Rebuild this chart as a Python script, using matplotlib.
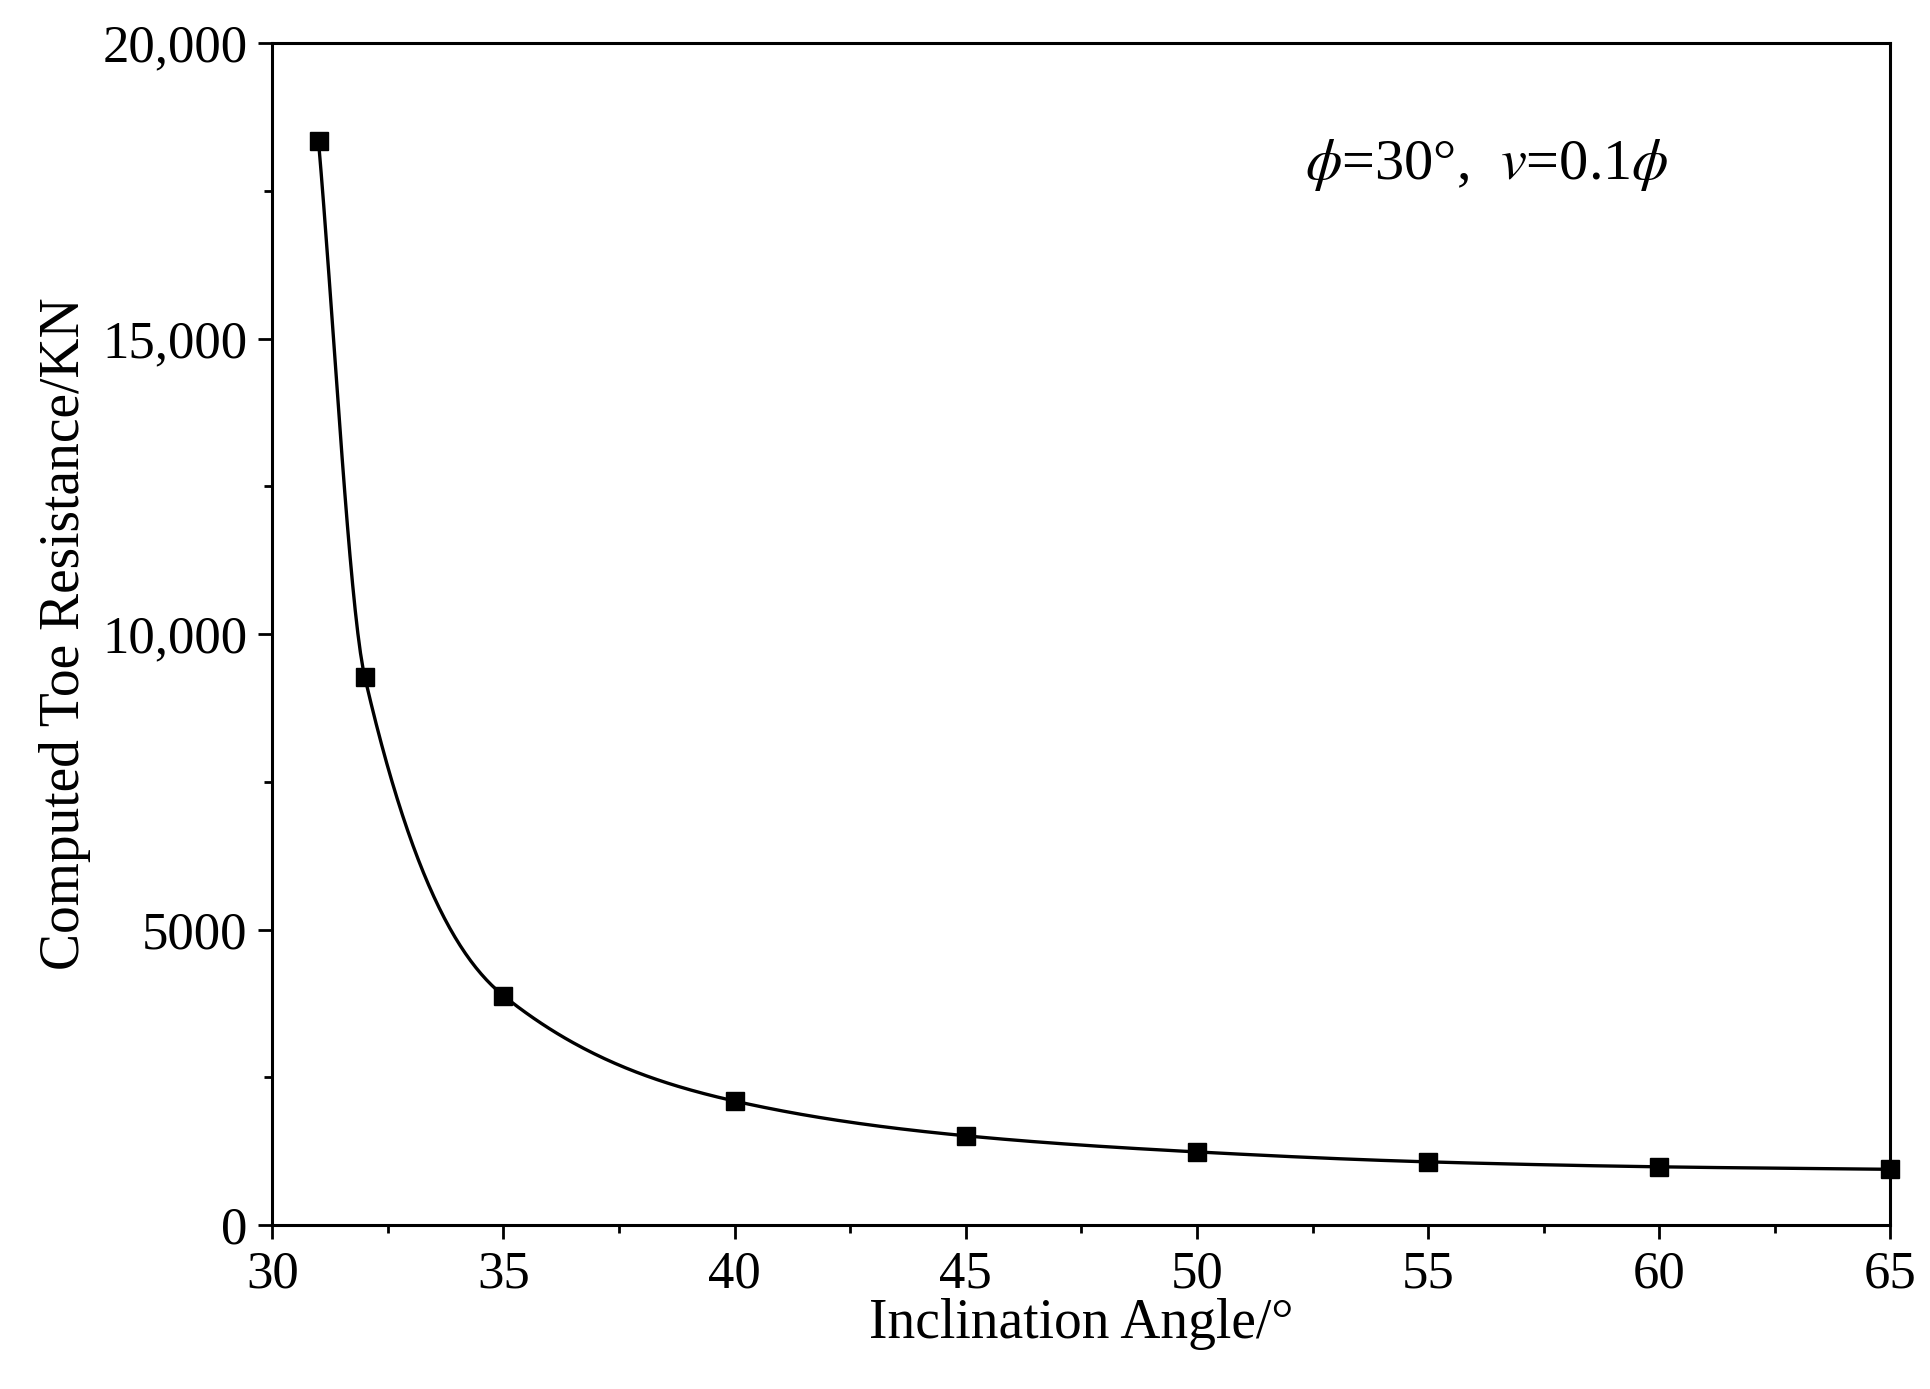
import numpy as np
import matplotlib
matplotlib.use("Agg")
import matplotlib.pyplot as plt
from matplotlib.ticker import MultipleLocator, FuncFormatter

plt.rcParams['font.family'] = ['Liberation Serif', 'DejaVu Serif']
plt.rcParams['mathtext.fontset'] = 'stix'

# data
angles = [31, 32, 35, 40, 45, 50, 55, 60, 65]
resistance = [18340, 9276, 3882, 2099, 1511, 1238, 1070, 986, 944]


def pchip(x, y, xs):
    # monotone cubic used only to draw a smooth line through the points
    x = np.asarray(x, float); y = np.asarray(y, float)
    h = np.diff(x); d = np.diff(y) / h
    m = np.zeros_like(y)
    for k in range(1, len(x) - 1):
        if d[k - 1] * d[k] > 0:
            w1 = 2 * h[k] + h[k - 1]; w2 = h[k] + 2 * h[k - 1]
            m[k] = (w1 + w2) / (w1 / d[k - 1] + w2 / d[k])
    m[0] = d[0]; m[-1] = d[-1]
    idx = np.clip(np.searchsorted(x, xs) - 1, 0, len(x) - 2)
    t = (xs - x[idx]) / h[idx]
    h00 = 2*t**3 - 3*t**2 + 1; h10 = t**3 - 2*t**2 + t
    h01 = -2*t**3 + 3*t**2; h11 = t**3 - t**2
    return h00*y[idx] + h10*h[idx]*m[idx] + h01*y[idx+1] + h11*h[idx]*m[idx+1]


fig = plt.figure(figsize=(19.31, 13.89), dpi=100)
ax = fig.add_axes([0.141, 0.118, 0.838, 0.851])

xs = np.linspace(angles[0], angles[-1], 600)
ax.plot(xs, pchip(angles, resistance, xs), color='black', lw=2.4)
ax.plot(angles, resistance, 's', color='black', ms=13, clip_on=False)

ax.set_xlim(30, 65)
ax.set_ylim(0, 20000)
ax.xaxis.set_major_locator(MultipleLocator(5))
ax.xaxis.set_minor_locator(MultipleLocator(2.5))
ax.yaxis.set_major_locator(MultipleLocator(5000))
ax.yaxis.set_minor_locator(MultipleLocator(2500))
ax.yaxis.set_major_formatter(FuncFormatter(
    lambda v, p: '0' if v == 0 else ('5000' if v == 5000 else f'{int(v):,}')))
ax.tick_params(which='major', direction='out', length=10, width=2, labelsize=38, pad=8)
ax.tick_params(which='minor', direction='out', length=6, width=2)
for s in ax.spines.values():
    s.set_linewidth(2.2)

ax.set_xlabel('Inclination Angle/°', fontsize=40, labelpad=0)
ax.set_ylabel('Computed Toe Resistance/KN', fontsize=40, labelpad=8)
ax.text(0.638, 0.885, r'$\phi$=30°,  $v$=0.1$\phi$', transform=ax.transAxes,
        fontsize=42)

fig.savefig('out.png', dpi=100)
